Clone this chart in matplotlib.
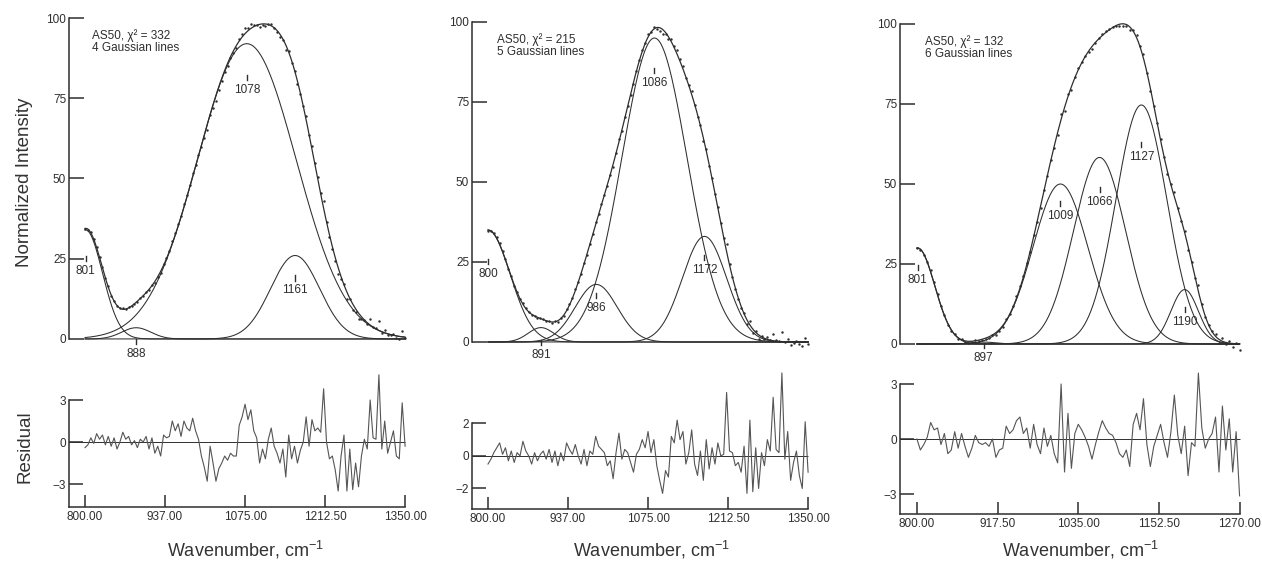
import numpy as np
import matplotlib
matplotlib.use("Agg")
import matplotlib.pyplot as plt

plt.rcParams['font.family'] = ['Liberation Sans', 'DejaVu Sans']
plt.rcParams['mathtext.fontset'] = 'custom'
plt.rcParams['mathtext.rm'] = 'Liberation Sans'
plt.rcParams['mathtext.it'] = 'Liberation Sans:italic'

W, H = 1262, 566
INK = '#2e2e2e'

# ---------------- Panel 1 ----------------
p1_note = "AS50, χ² = 332\n4 Gaussian lines"
p1_centers = [801, 888, 1078, 1161]
p1_amps = [34, 3.5, 92, 26]
p1_sigmas = [29, 25, 85, 42]
p1_labels = ["801", "888", "1078", "1161"]
p1_label_y = [25, -0.8, 81.5, 19]
p1_range = (800, 1350)
p1_xticks = [800, 937.5, 1075, 1212.5, 1350]
p1_xticklabels = ["800.00", "937.00", "1075.00", "1212.50", "1350.00"]
p1_res_yticks = [-3, 0, 3]
p1_res_yticklabels = ["−3", "0", "3"]
p1_res_step = 5
p1_residual = [
    -0.4, -0.2, 0.3, -0.1, 0.6, 0.2, 0.5, -0.2, 0.4, -0.3,
    0.3, -0.5, 0.0, 0.7, 0.2, 0.4, -0.2, 0.1, -0.4, 0.2,
    0.0, 0.4, -0.5, 0.3, -0.8, -0.3, -1.0, 0.5, 0.3, 0.4,
    1.5, 0.8, 1.3, 0.4, 1.5, 1.0, 0.8, 1.7, 0.8, 0.2,
    -1.0, -1.8, -2.8, -0.3, -1.5, -2.8, -1.9, -1.5, -1.0, -1.3,
    -0.8, -1.0, -1.0, 1.2, 1.8, 2.7, 1.6, 2.3, 0.8, 0.3,
    -1.5, -0.5, -1.2, 0.2, 1.0, -0.3, -0.8, -1.5, -0.5, -2.5,
    0.5, -1.2, -0.3, -1.5, -0.6, 0.0, 1.8, -0.3, 1.6, 0.8,
    1.0, 0.7, 3.8, 0.0, -1.2, -1.0, -2.0, -3.5, -1.0, 0.5,
    -3.5, -0.5, -3.4, -1.5, -3.2, -1.0, 0.2, -0.5, 3.0, 0.3,
    0.2, 4.8, -0.5, 1.5, -0.8, 0.0, 0.8, -1.0, -1.2, 2.8,
    -0.3]

# ---------------- Panel 2 ----------------
p2_note = "AS50, χ² = 215\n5 Gaussian lines"
p2_centers = [800, 891, 986, 1086, 1172]
p2_amps = [35, 4.5, 18, 95, 33]
p2_sigmas = [38, 22, 36, 56, 38]
p2_labels = ["800", "891", "986", "1086", "1172"]
p2_label_y = [25.2, -0.1, 14.5, 84.8, 26.5]
p2_range = (800, 1350)
p2_xticks = [800, 937.5, 1075, 1212.5, 1350]
p2_xticklabels = ["800.00", "937.00", "1075.00", "1212.50", "1350.00"]
p2_res_yticks = [-2, 0, 2]
p2_res_yticklabels = ["−2", "0", "2"]
p2_res_step = 5
p2_residual = [
    -0.5, -0.2, 0.2, 0.5, 0.8, 0.1, 0.5, -0.3, 0.3, -0.4,
    0.2, 0.0, 0.9, 0.3, 0.0, -0.5, 0.2, -0.3, 0.1, 0.3,
    -0.2, 0.4, -0.4, 0.3, -0.6, 0.2, -0.3, 0.8, 0.4, 0.1,
    0.7, 0.0, -0.5, 0.4, -0.6, 0.3, 0.1, 1.2, 0.6, 0.4,
    0.2, -0.6, -0.3, -1.4, 0.2, 1.4, -0.2, 0.4, 0.2, -0.4,
    -1.0, 0.1, 0.4, 1.0, 0.5, 1.5, 0.2, 1.0, -0.6, -1.5,
    -2.3, -0.9, -1.3, 1.2, 0.8, 2.2, 1.0, 1.5, -0.5, 0.2,
    1.6, -0.5, -1.2, 0.3, -1.5, 1.0, -0.8, 0.5, -0.5, 0.8,
    0.0, 0.1, 3.9, 0.3, 0.2, -0.6, -0.4, -1.0, 0.6, -2.3,
    2.2, -2.2, 0.5, -2.0, 0.2, -0.6, 1.0, 0.3, 3.6, 0.4,
    0.2, 5.1, -0.2, 1.5, -1.5, -0.4, 0.3, -1.2, -2.0, 2.1,
    -1.0]

# ---------------- Panel 3 ----------------
p3_note = "AS50, χ² = 132\n6 Gaussian lines"
p3_centers = [801, 897, 1009, 1066, 1127, 1190]
p3_amps = [30, 0.6, 50, 58.3, 74.7, 17]
p3_sigmas = [25, 18, 40, 38, 37, 20]
p3_labels = ["801", "897", "1009", "1066", "1127", "1190"]
p3_label_y = [23.9, -0.6, 43.8, 48.3, 62.3, 10.9]
p3_range = (800, 1270)
p3_xticks = [800, 917.5, 1035, 1152.5, 1270]
p3_xticklabels = ["800.00", "917.50", "1035.00", "1152.50", "1270.00"]
p3_res_yticks = [-3, 0, 3]
p3_res_yticklabels = ["−3", "0", "3"]
p3_res_step = 5
p3_residual = [
    0.0, -0.6, -0.3, 0.1, 0.9, 0.5, 0.6, -0.3, 0.3, -0.8,
    -0.6, 0.4, -0.5, 0.3, -0.4, -1.0, -0.5, 0.2, -0.2, -0.3,
    -0.2, -0.4, 0.0, -1.0, -0.6, -0.5, 0.7, 0.3, 0.5, 1.0,
    1.2, 0.3, 0.6, -0.5, 0.8, -0.3, -0.8, 0.6, -0.4, 0.2,
    -0.8, -1.3, 3.0, -1.8, 1.4, -1.6, 0.3, 0.8, 0.5, 0.1,
    -0.4, -1.1, -0.3, 0.4, 1.0, 0.6, 0.3, 0.2, -0.2, -0.8,
    -1.0, -0.6, -1.5, 0.8, 1.4, 0.5, 2.2, -0.3, -1.5, -0.4,
    0.2, 0.8, -0.2, -1.0, 0.4, 2.4, 0.2, -0.8, 0.7, -2.0,
    -0.2, -0.4, 3.6, 0.6, -0.5, 0.0, 0.3, 1.2, -1.8, 1.8,
    -0.6, 1.1, -1.8, 0.4, -3.1]

# how strongly the plotted data points deviate from the fit, per residual unit
POINT_SCALE = 0.6

# pixel geometry of each panel
geoms = [
    dict(l=69, r=408, xlim=(772.5, 1355), mt=14.8, mb=351.8, mylim=(-4, 101),
         rt=367.8, rb=507, rylim=(-4.64, 5.3), note_xy=(812, 96.5), xlab_cx=245),
    dict(l=472, r=811, xlim=(772.5, 1355), mt=18.8, mb=354.8, mylim=(-4, 101),
         rt=368, rb=509, rylim=(-3.26, 5.4), note_xy=(815, 96.5), xlab_cx=651),
    dict(l=900, r=1243, xlim=(775.3, 1275), mt=20.8, mb=356.8, mylim=(-4, 101),
         rt=367.5, rb=514, rylim=(-4.09, 3.9), note_xy=(812, 96.5), xlab_cx=1080),
]

panels = [
    (p1_note, p1_centers, p1_amps, p1_sigmas, p1_labels, p1_label_y, p1_range,
     p1_xticks, p1_xticklabels, p1_res_yticks, p1_res_yticklabels, p1_res_step, p1_residual),
    (p2_note, p2_centers, p2_amps, p2_sigmas, p2_labels, p2_label_y, p2_range,
     p2_xticks, p2_xticklabels, p2_res_yticks, p2_res_yticklabels, p2_res_step, p2_residual),
    (p3_note, p3_centers, p3_amps, p3_sigmas, p3_labels, p3_label_y, p3_range,
     p3_xticks, p3_xticklabels, p3_res_yticks, p3_res_yticklabels, p3_res_step, p3_residual),
]


def gaussians(x, centers, amps, sigmas):
    return [a * np.exp(-(x - c) ** 2 / (2.0 * s ** 2)) for c, a, s in zip(centers, amps, sigmas)]


def px_axes(fig, l, r, t, b):
    return fig.add_axes([l / W, 1 - b / H, (r - l) / W, (b - t) / H])


fig = plt.figure(figsize=(W / 100, H / 100), dpi=100)
fig.patch.set_facecolor('white')

for g, (note, cen, amp, sig, labs, laby, xr, xt, xtl, ryt, rytl, rstep, resid) in zip(geoms, panels):
    # ---- main spectrum axes ----
    ax = px_axes(fig, g['l'], g['r'], g['mt'], g['mb'])
    ax.set_xlim(*g['xlim'])
    ax.set_ylim(*g['mylim'])
    x = np.linspace(xr[0], xr[1], 600)
    comps = gaussians(x, cen, amp, sig)
    for c in comps:
        ax.plot(x, c, color=INK, lw=0.75)
    total = np.sum(comps, axis=0)
    ax.plot(x, total, color=INK, lw=0.9)
    xr_pts = xr[0] + rstep * np.arange(len(resid))
    fit_pts = np.sum(gaussians(xr_pts, cen, amp, sig), axis=0)
    ax.plot(xr_pts, fit_pts + POINT_SCALE * np.array(resid), ls='none', marker='.',
            ms=1.5, color=INK)
    for lab, ly in zip(labs, laby):
        lx = float(lab)
        ax.plot([lx, lx], [ly - 0.8, ly + 0.8], color=INK, lw=1.0, clip_on=False)
        ax.text(lx, ly - 3.9, lab, ha='center', va='center', fontsize=8.5, color=INK)
    ax.text(g['note_xy'][0], g['note_xy'][1], note, ha='left', va='top',
            fontsize=8.5, color=INK, linespacing=1.0)
    for s in ('top', 'right', 'bottom'):
        ax.spines[s].set_visible(False)
    ax.spines['left'].set_bounds(0, 100)
    ax.spines['left'].set_color(INK)
    ax.spines['left'].set_linewidth(1.1)
    ax.set_xticks([])
    ax.set_yticks([0, 25, 50, 75, 100])
    ax.tick_params(axis='y', direction='in', length=11, width=1.1, color=INK,
                   labelsize=8.5, labelcolor=INK, pad=2)
    ax.patch.set_alpha(0)

    # ---- residual axes ----
    ar = px_axes(fig, g['l'], g['r'], g['rt'], g['rb'])
    ar.set_xlim(*g['xlim'])
    ar.set_ylim(*g['rylim'])
    ar.hlines(0, g['xlim'][0], xr[1], color=INK, lw=0.7)
    ar.plot(xr_pts, resid, color='#555555', lw=0.8)
    for s in ('top', 'right'):
        ar.spines[s].set_visible(False)
    ar.spines['left'].set_bounds(g['rylim'][0], max(ryt))
    ar.spines['bottom'].set_bounds(g['xlim'][0], xr[1])
    for s in ('left', 'bottom'):
        ar.spines[s].set_color(INK)
        ar.spines[s].set_linewidth(1.1)
    ar.set_xticks(xt)
    ar.set_xticklabels(xtl)
    ar.set_yticks(ryt)
    ar.set_yticklabels(rytl)
    ar.tick_params(axis='x', direction='in', length=9, width=1.1, color=INK,
                   labelsize=8.5, labelcolor=INK, pad=3)
    ar.tick_params(axis='y', direction='in', length=10, width=1.1, color=INK,
                   labelsize=8.5, labelcolor=INK, pad=2)
    ar.patch.set_alpha(0)

    fig.text(g['xlab_cx'] / W, 1 - 550 / H, r"Wavenumber, cm$^{-1}$", ha='center', va='center',
             fontsize=13, color='#333333')

fig.text(25 / W, 1 - 182 / H, "Normalized Intensity", rotation=90, ha='center', va='center',
         fontsize=13.5, color='#333333')
fig.text(25 / W, 1 - 447 / H, "Residual", rotation=90, ha='center', va='center',
         fontsize=13.5, color='#333333')

fig.savefig("out.png", dpi=100, facecolor='white')
